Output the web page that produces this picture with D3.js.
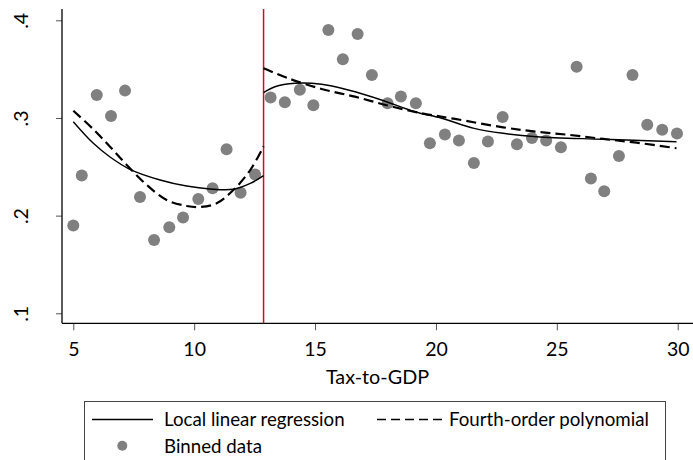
<!DOCTYPE html>
<html><head><meta charset="utf-8">
<script src="https://cdn.jsdelivr.net/npm/d3@7"></script>
<style>body{margin:0;background:#fff} svg{display:block}</style>
</head><body>
<svg id="c" width="693" height="460"></svg>
<script>
// Binned data
const binX = [5.0,5.35,5.97,6.56,7.14,7.76,8.34,8.97,9.54,10.17,10.76,11.34,11.92,12.52,
  13.16,13.75,14.37,14.93,15.55,16.15,16.76,17.35,18.0,18.55,19.17,19.75,20.37,20.95,21.57,22.15,22.76,23.35,23.97,24.56,25.17,25.82,26.41,26.96,27.57,28.13,28.74,29.36,29.97];
const binY = [0.190,0.241,0.3235,0.302,0.328,0.219,0.175,0.188,0.198,0.217,0.228,0.268,0.2235,0.242,
  0.321,0.316,0.329,0.313,0.390,0.360,0.386,0.344,0.315,0.322,0.315,0.274,0.283,0.277,0.254,0.276,0.301,0.273,0.2795,0.277,0.270,0.3525,0.238,0.225,0.261,0.344,0.293,0.288,0.284];
const threshold = 12.87;
// Local linear regression (solid)
const llrLeftX = [5.0,5.83,6.52,7.34,8.59,9.69,10.65,11.62,12.32,12.87];
const llrLeftY = [0.2962,0.274,0.260,0.2474,0.2365,0.2303,0.2273,0.227,0.233,0.2410];
const llrRightX = [12.87,13.34,14.17,15.27,16.37,17.75,19.13,20.24,21.58,22.78,24.16,26.92,29.95];
const llrRightY = [0.3259,0.332,0.3355,0.3345,0.3286,0.3184,0.3064,0.2997,0.2894,0.2843,0.2808,0.2782,0.2757];
// Fourth-order polynomial (dashed)
const polyLeftX = [5.0,5.83,6.52,7.21,8.04,8.86,9.69,10.24,10.93,11.62,12.32,12.87];
const polyLeftY = [0.3074,0.2884,0.2706,0.2519,0.2314,0.216,0.2099,0.2088,0.2126,0.2262,0.2467,0.2710];
const polyRightX = [12.87,13.89,15.27,16.65,18.03,19.41,20.79,22.78,24.16,25.54,26.92,28.3,29.95];
const polyRightY = [0.3509,0.3406,0.3297,0.3218,0.3126,0.3048,0.299,0.2904,0.2859,0.2826,0.2785,0.2747,0.269];

const xTicks = [5,10,15,20,25,30];
const yTicks = [0.1,0.2,0.3,0.4];
const yTickLabels = [".1",".2",".3",".4"];
const xTitle = "Tax-to-GDP";
const legendLabels = ["Local linear regression","Fourth-order polynomial","Binned data"];

const FONT = "Lato, 'Open Sans', sans-serif";
const svg = d3.select("#c");
const x = d3.scaleLinear().domain([5,30]).range([73.3,677.7]);
const y = d3.scaleLinear().domain([0.1,0.4]).range([313.3,20.3]);
const frame = {left:62, right:693, top:9, bottom:323.3};

// axes
const xAxis = svg.append("g").attr("transform",`translate(0,${frame.bottom})`)
  .call(d3.axisBottom(x).tickValues(xTicks).tickSize(7).tickSizeOuter(0).tickFormat(d3.format("d")));
xAxis.select(".domain").remove();
xAxis.selectAll(".tick line").attr("stroke","#555");
xAxis.selectAll(".tick text").attr("y",33).attr("dy",0).attr("font-family",FONT).attr("font-size",19.5).attr("fill","#000");

const yAxis = svg.append("g").attr("transform",`translate(${frame.left},0)`)
  .call(d3.axisLeft(y).tickValues(yTicks).tickSize(6).tickSizeOuter(0).tickFormat((d,i)=>yTickLabels[i]));
yAxis.select(".domain").remove();
yAxis.selectAll(".tick line").attr("stroke","#555");
yAxis.selectAll(".tick text").attr("transform","rotate(-90)").attr("x",0).attr("y",-34.5).attr("dy",0)
  .attr("text-anchor","middle").attr("font-family",FONT).attr("font-size",19.5).attr("fill","#000");

svg.append("line").attr("x1",frame.left).attr("x2",frame.left).attr("y1",frame.top).attr("y2",frame.bottom).attr("stroke","#000").attr("stroke-width",1.3);
svg.append("line").attr("x1",frame.left).attr("x2",frame.right).attr("y1",frame.bottom).attr("y2",frame.bottom).attr("stroke","#000").attr("stroke-width",1.3);

svg.append("text").attr("x",(x(5)+x(30))/2+2).attr("y",384).attr("text-anchor","middle")
  .attr("font-family",FONT).attr("font-size",19.8).attr("fill","#000").text(xTitle);

// threshold
svg.append("line").attr("x1",x(threshold)).attr("x2",x(threshold)).attr("y1",frame.top).attr("y2",frame.bottom)
  .attr("stroke","#c8102e").attr("stroke-width",1.5);

// points
svg.append("g").selectAll("circle").data(binX.map((v,i)=>[v,binY[i]])).join("circle")
  .attr("cx",d=>x(d[0])).attr("cy",d=>y(d[1])).attr("r",6).attr("fill","#808080");

const line = d3.line().x(d=>x(d[0])).y(d=>y(d[1])).curve(d3.curveCatmullRom.alpha(0.5));
const zip = (a,b)=>a.map((v,i)=>[v,b[i]]);
[[llrLeftX,llrLeftY],[llrRightX,llrRightY]].forEach(([a,b])=>{
  svg.append("path").attr("d",line(zip(a,b))).attr("fill","none").attr("stroke","#000").attr("stroke-width",1.4);
});
[[polyLeftX,polyLeftY],[polyRightX,polyRightY]].forEach(([a,b])=>{
  svg.append("path").attr("d",line(zip(a,b))).attr("fill","none").attr("stroke","#000").attr("stroke-width",2.2).attr("stroke-dasharray","10,5");
});

// legend
const lg = svg.append("g");
lg.append("rect").attr("x",84.5).attr("y",401.5).attr("width",581).attr("height",80).attr("fill","#fff").attr("stroke","#444").attr("stroke-width",1);
lg.append("line").attr("x1",92).attr("x2",153).attr("y1",419.5).attr("y2",419.5).attr("stroke","#000").attr("stroke-width",1.4);
lg.append("text").attr("x",164).attr("y",426).attr("font-family",FONT).attr("font-size",18.7).attr("fill","#000").text(legendLabels[0]);
lg.append("line").attr("x1",377).attr("x2",443).attr("y1",419.5).attr("y2",419.5).attr("stroke","#000").attr("stroke-width",1.3).attr("stroke-dasharray","9,5");
lg.append("text").attr("x",449).attr("y",426).attr("font-family",FONT).attr("font-size",18.7).attr("fill","#000").text(legendLabels[1]);
lg.append("circle").attr("cx",122.3).attr("cy",445.7).attr("r",5).attr("fill","#808080");
lg.append("text").attr("x",164).attr("y",453).attr("font-family",FONT).attr("font-size",18.7).attr("fill","#000").text(legendLabels[2]);
</script>
</body></html>
